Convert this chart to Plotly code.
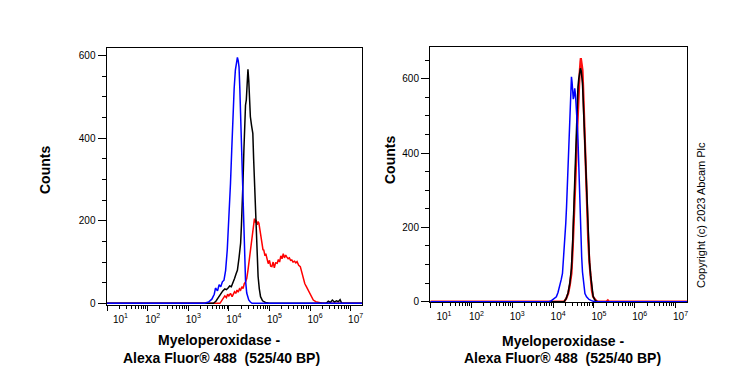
import plotly.graph_objects as go

# ---------------- data (log10 of fluorescence, counts) ----------------
left_blue_log = [1.0, 3.40, 3.50, 3.58, 3.64, 3.67, 3.72, 3.76, 3.80, 3.84, 3.88, 3.92, 3.96, 4.00, 4.04, 4.07, 4.10,
                 4.13, 4.16, 4.19, 4.21, 4.23, 4.25, 4.27, 4.29, 4.31, 4.33, 4.35, 4.37, 4.39, 4.41, 4.44, 4.47,
                 4.49, 4.53, 4.57, 7.28]
left_blue_cnt = [0, 0, 3, 10, 22, 37, 30, 45, 40, 52, 56, 80, 129, 200, 291, 370, 452,
                 520, 565, 590, 596, 588, 573, 520, 452, 370, 291, 230, 170, 100, 56, 25, 12,
                 8, 3, 0, 0]

left_black_log = [1.0, 3.62, 3.68, 3.74, 3.80, 3.85, 3.90, 3.94, 3.98, 4.02, 4.06, 4.10, 4.14, 4.18, 4.21, 4.25,
                  4.29, 4.31, 4.33, 4.35, 4.37, 4.39, 4.41, 4.43, 4.45, 4.47, 4.49, 4.51, 4.53, 4.56, 4.59,
                  4.61, 4.63, 4.65, 4.67, 4.70, 4.72, 4.75, 4.78, 4.83, 4.90, 5.0, 6.40, 6.45, 6.50, 6.55,
                  6.60, 6.65, 6.70, 6.74, 6.78, 7.28]
left_black_cnt = [0, 0, 5, 15, 22, 30, 35, 33, 37, 42, 40, 48, 60, 72, 80, 110,
                  146, 190, 234, 300, 371, 452, 480, 493, 540, 567, 540, 500, 452, 430, 412,
                  350, 291, 230, 170, 110, 65, 35, 16, 6, 2, 0, 0, 5, 2, 8,
                  3, 6, 4, 9, 0, 0]

left_red_log = [1.0, 3.78, 3.82, 3.86, 3.90, 3.94, 3.97, 4.00, 4.04, 4.08, 4.11, 4.14, 4.17, 4.20, 4.23, 4.26,
                4.29, 4.32, 4.35, 4.38, 4.41, 4.44, 4.47, 4.49, 4.52, 4.55, 4.58, 4.61, 4.63, 4.65, 4.67,
                4.70, 4.72, 4.74, 4.77, 4.79, 4.82, 4.84, 4.86, 4.89, 4.91, 4.94, 4.97, 5.00, 5.03, 5.06,
                5.09, 5.12, 5.15, 5.19, 5.22, 5.25, 5.28, 5.31, 5.34, 5.37, 5.40, 5.43, 5.46, 5.49, 5.52,
                5.55, 5.58, 5.62, 5.65, 5.68, 5.72, 5.76, 5.80, 5.84, 5.87, 5.90, 5.93, 5.96, 6.00, 6.04,
                6.08, 6.14, 6.21, 6.30, 7.28]
left_red_cnt = [0, 0, 6, 12, 18, 14, 22, 18, 24, 16, 22, 28, 24, 32, 27, 35,
                32, 40, 36, 48, 52, 60, 80, 97, 120, 146, 165, 186, 205, 196, 202,
                190, 198, 194, 175, 161, 140, 130, 129, 115, 120, 105, 96, 104, 90, 89,
                100, 86, 98, 97, 106, 100, 115, 108, 120, 110, 117, 112, 108, 110, 104,
                105, 100, 102, 98, 101, 92, 89, 72, 56, 48, 42, 36, 30, 20, 14,
                8, 4, 2, 0, 0]

right_blue_log = [1.0, 3.90, 3.96, 4.02, 4.08, 4.12, 4.16, 4.20, 4.23, 4.26, 4.29, 4.31, 4.33, 4.35, 4.37, 4.39,
                  4.41, 4.43, 4.45, 4.465, 4.48, 4.495, 4.51, 4.53, 4.55, 4.57, 4.59, 4.61, 4.63, 4.65, 4.67,
                  4.70, 4.72, 4.75, 4.78, 4.82, 4.88, 4.94, 5.02, 7.28]
right_blue_cnt = [0, 0, 3, 7, 13, 25, 40, 60, 76, 120, 166, 210, 256, 310, 363, 420,
                  480, 545, 605, 590, 570, 545, 552, 574, 555, 525, 480, 435, 350, 256, 190,
                  121, 80, 40, 22, 13, 6, 3, 0, 0]

right_red_log = [1.0, 4.27, 4.32, 4.37, 4.41, 4.45, 4.48, 4.51, 4.54, 4.57, 4.59, 4.61, 4.63, 4.65, 4.67, 4.68,
                 4.70, 4.72, 4.735, 4.75, 4.77, 4.80, 4.83, 4.86, 4.89, 4.92, 4.95, 4.98, 5.02, 5.06, 5.10,
                 5.30, 5.34, 5.37, 7.28]
right_red_cnt = [0, 0, 8, 22, 45, 76, 140, 211, 300, 390, 460, 525, 580, 614, 645, 655,
                 640, 623, 580, 525, 440, 345, 250, 166, 105, 58, 30, 13, 6, 2, 0,
                 0, 4, 0, 0]

right_black_log = [1.0, 4.27, 4.32, 4.37, 4.41, 4.45, 4.48, 4.51, 4.54, 4.57, 4.59, 4.61, 4.63, 4.65, 4.67, 4.69,
                   4.72, 4.735, 4.75, 4.765, 4.78, 4.80, 4.82, 4.84, 4.86, 4.89, 4.92, 4.95, 4.98, 5.02, 5.05,
                   5.10, 7.28]
right_black_cnt = [0, 0, 8, 25, 50, 90, 160, 250, 370, 480, 540, 578, 600, 619, 628, 620,
                   588, 550, 507, 480, 435, 370, 300, 230, 166, 110, 70, 35, 15, 5, 2,
                   0, 0]

x_tick_vals = [1e1, 1e2, 1e3, 1e4, 1e5, 1e6, 1e7]
x_tick_text = ["\u00a0" * 6 + "10<sup>1</sup>", "10<sup>2</sup>", "10<sup>3</sup>", "10<sup>4</sup>",
               "10<sup>5</sup>", "10<sup>6</sup>", "10<sup>7</sup>"]
x_minor_vals = [m * 10 ** e for e in range(1, 7) for m in range(2, 10)]
y_tick_vals = [0, 200, 400, 600]

x_title_1 = "Myeloperoxidase -"
x_title_2 = "Alexa Fluor® 488 \u00a0(525/40 BP)"
y_title = "Counts"
copyright_text = "Copyright (c) 2023 Abcam Plc"

# ---------------- figure ----------------
# the page body has an 8px default margin, so the figure is placed at (8, 8)
OFF = 8
W, H = 739 - OFF, 370 - OFF
fig = go.Figure()

def px_x(p):
    return (p - OFF) / W

def px_y(p):
    return 1 - (p - OFF) / H

def add(xlog, cnt, color, width, xa, ya):
    fig.add_trace(go.Scatter(x=[10 ** v for v in xlog], y=cnt, mode="lines",
                             line=dict(color=color, width=width, shape="linear"),
                             xaxis=xa, yaxis=ya, showlegend=False, hoverinfo="skip"))

add(left_red_log, left_red_cnt, "#ff0000", 1.5, "x", "y")
add(left_black_log, left_black_cnt, "#000000", 1.5, "x", "y")
add(left_blue_log, left_blue_cnt, "#0000ff", 1.5, "x", "y")

add(right_red_log, right_red_cnt, "#ff1010", 2.2, "x2", "y2")
add(right_black_log, right_black_cnt, "#000000", 1.6, "x2", "y2")
add(right_blue_log, right_blue_cnt, "#0000ff", 1.5, "x2", "y2")

tickfont = dict(family="Liberation Sans, Arial, sans-serif", size=10, color="black")

def xaxis(domain):
    return dict(domain=domain, type="log", range=[0.985, 7.28], tickmode="array",
                tickvals=x_tick_vals, ticktext=x_tick_text, ticks="outside", ticklen=5,
                tickwidth=1, tickcolor="black", ticklabelshift=5, automargin=False,
                minor=dict(tickmode="array", tickvals=x_minor_vals, ticks="outside", ticklen=3,
                           tickwidth=1, tickcolor="black", showgrid=False),
                showline=True, linecolor="black", linewidth=1, mirror=True,
                showgrid=False, zeroline=False, tickfont=tickfont, fixedrange=True)

def yaxis(domain, rng, anchor):
    return dict(domain=domain, range=rng, tickmode="array", tickvals=y_tick_vals,
                ticks="outside", ticklen=8, tickwidth=1, tickcolor="black", automargin=False,
                minor=dict(dtick=50, tick0=0, ticks="outside", ticklen=4, tickwidth=1,
                           tickcolor="black", showgrid=False),
                showline=True, linecolor="black", linewidth=1, mirror=True,
                showgrid=False, zeroline=False, tickfont=tickfont, anchor=anchor,
                fixedrange=True)

fig.update_layout(
    template="none",
    width=W, height=H,
    margin=dict(l=0, r=0, t=0, b=0, pad=0),
    paper_bgcolor="white", plot_bgcolor="white",
    xaxis=dict(xaxis([px_x(106.5), px_x(362)]), anchor="y"),
    yaxis=yaxis([px_y(304.5), px_y(48)], [-2.9, 618.6], "x"),
    xaxis2=dict(xaxis([px_x(430), px_x(687)]), anchor="y2"),
    yaxis2=yaxis([px_y(302.3), px_y(46.7)], [-1.6, 686], "x2"),
)

title_font = dict(family="Liberation Sans, Arial, sans-serif", size=14, color="black")
annots = [
    (219, 340, "<b>%s</b>" % x_title_1, 0),
    (221, 357.5, "<b>%s</b>" % x_title_2, 0),
    (562.5, 341, "<b>%s</b>" % x_title_1, 0),
    (562.5, 357.5, "<b>%s</b>" % x_title_2, 0),
    (45, 170, "<b>%s</b>" % y_title, -90),
    (390, 160, "<b>%s</b>" % y_title, -90),
]
for x, y, t, ang in annots:
    fig.add_annotation(x=px_x(x), y=px_y(y), xref="paper", yref="paper", text=t,
                       showarrow=False, xanchor="center", yanchor="middle",
                       textangle=ang, font=title_font)

fig.add_annotation(x=px_x(701), y=px_y(215), xref="paper", yref="paper", text=copyright_text,
                   showarrow=False, xanchor="center", yanchor="middle", textangle=-90,
                   font=dict(family="Liberation Sans, Arial, sans-serif", size=11, color="black"))

fig.write_html("out.html")
